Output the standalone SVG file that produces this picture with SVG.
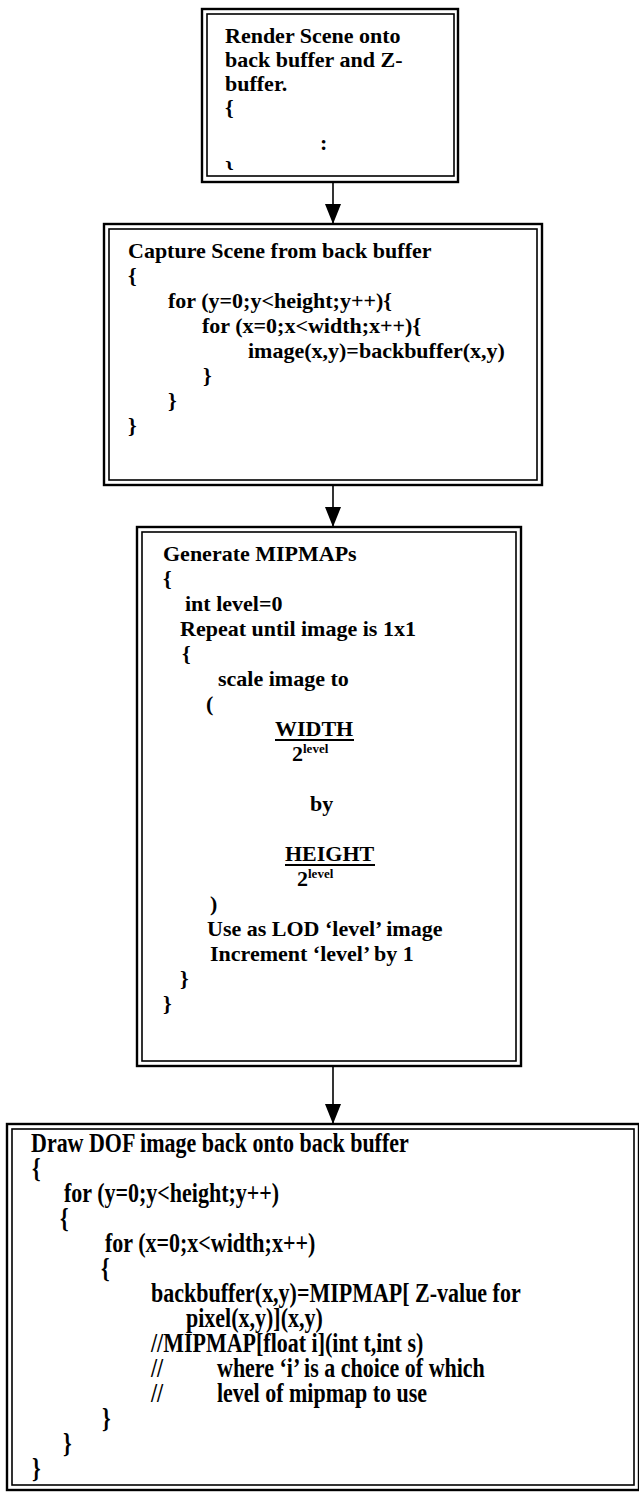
<svg xmlns="http://www.w3.org/2000/svg" width="639" height="1493" viewBox="0 0 639 1493">
<style>
.o{fill:none;stroke:#000;stroke-width:2.4}
.i{fill:none;stroke:#000;stroke-width:1.6}
text{font-family:"Liberation Serif","Times New Roman",serif;font-weight:bold;font-size:22px;fill:#000}
.sup{font-size:13px}
.c{stroke:#000;stroke-width:1.6;fill:none}
.bar{stroke:#000;stroke-width:2}
</style>
<defs>
<marker id="ah" markerUnits="userSpaceOnUse" markerWidth="20" markerHeight="16" refX="20" refY="8" orient="auto" viewBox="0 0 20 16">
<path d="M0,0 L20,8 L0,16 Z" fill="#000"/>
</marker>
<clipPath id="cp1"><rect x="206" y="14" width="248" height="156"/></clipPath>
</defs>
<g id="connectors">
<line class="c" x1="333" y1="182" x2="333" y2="224" marker-end="url(#ah)"/>
<line class="c" x1="333" y1="485" x2="333" y2="527" marker-end="url(#ah)"/>
<line class="c" x1="333" y1="1066" x2="333" y2="1124" marker-end="url(#ah)"/>
</g>
<g id="render">
<rect class="o" x="202" y="9" width="256" height="173"/>
<rect class="i" x="207" y="14" width="247" height="162"/>
<g clip-path="url(#cp1)">
<text x="225" y="43">Render Scene onto</text>
<text x="225" y="67">back buffer and Z-</text>
<text x="225" y="91">buffer.</text>
<text x="225" y="115">{</text>
<text x="320" y="150">:</text>
<text x="225" y="176">}</text>
</g>
</g>
<g id="capture">
<rect class="o" x="104" y="224" width="438" height="261"/>
<rect class="i" x="109" y="229" width="428" height="251"/>
<text x="128" y="258">Capture Scene from back buffer</text>
<text x="128" y="283">{</text>
<text x="168" y="308">for (y=0;y&lt;height;y++){</text>
<text x="202" y="333">for (x=0;x&lt;width;x++){</text>
<text x="248" y="358">image(x,y)=backbuffer(x,y)</text>
<text x="203" y="383">}</text>
<text x="168" y="408">}</text>
<text x="128" y="433">}</text>
</g>
<g id="mipmaps">
<rect class="o" x="137" y="527" width="384" height="539"/>
<rect class="i" x="142" y="532" width="374" height="529"/>
<text x="163" y="561">Generate MIPMAPs</text>
<text x="163" y="586">{</text>
<text x="185" y="611">int level=0</text>
<text x="180" y="636">Repeat until image is 1x1</text>
<text x="182" y="661">{</text>
<text x="218" y="686">scale image to</text>
<text x="206" y="711">(</text>
<text x="275" y="736">WIDTH</text>
<line class="bar" x1="275" y1="740" x2="354" y2="740"/>
<text x="292" y="761">2<tspan class="sup" dy="-8">level</tspan></text>
<text x="310" y="811">by</text>
<text x="285" y="861">HEIGHT</text>
<line class="bar" x1="285" y1="865" x2="375" y2="865"/>
<text x="297" y="886">2<tspan class="sup" dy="-8">level</tspan></text>
<text x="210" y="911">)</text>
<text x="207" y="936">Use as LOD ‘level’ image</text>
<text x="210" y="961">Increment ‘level’ by 1</text>
<text x="180" y="986">}</text>
<text x="163" y="1011">}</text>
</g>
<g id="drawdof">
<rect class="o" x="7" y="1124" width="632" height="366"/>
<rect class="i" x="12" y="1129" width="622" height="356"/>
<text transform="matrix(1 0 0 1.2 31 1152)">Draw DOF image back onto back buffer</text>
<text transform="matrix(1 0 0 1.2 32 1177)">{</text>
<text transform="matrix(1 0 0 1.2 64 1202)">for (y=0;y&lt;height;y++)</text>
<text transform="matrix(1 0 0 1.2 60 1227)">{</text>
<text transform="matrix(1 0 0 1.2 105 1252)">for (x=0;x&lt;width;x++)</text>
<text transform="matrix(1 0 0 1.2 101 1277)">{</text>
<text transform="matrix(1 0 0 1.2 151 1302)">backbuffer(x,y)=MIPMAP[ Z-value for</text>
<text transform="matrix(1 0 0 1.2 186 1327)">pixel(x,y)](x,y)</text>
<text transform="matrix(1 0 0 1.2 151 1352)">//MIPMAP[float i](int t,int s)</text>
<text transform="matrix(1 0 0 1.2 151 1377)">//</text>
<text transform="matrix(1 0 0 1.2 217 1377)">where ‘i’ is a choice of which</text>
<text transform="matrix(1 0 0 1.2 151 1402)">//</text>
<text transform="matrix(1 0 0 1.2 217 1402)">level of mipmap to use</text>
<text transform="matrix(1 0 0 1.2 102 1427)">}</text>
<text transform="matrix(1 0 0 1.2 63 1452)">}</text>
<text transform="matrix(1 0 0 1.2 32 1477)">}</text>
</g>
</svg>
